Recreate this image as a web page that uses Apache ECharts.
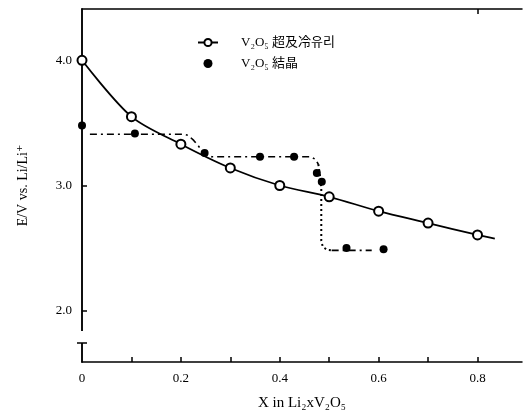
<!DOCTYPE html>
<html>
<head>
<meta charset="utf-8">
<script src="https://cdn.jsdelivr.net/npm/echarts@6/dist/echarts.min.js"></script>
<style>
html, body { margin: 0; padding: 0; background: #fff; }
#main { width: 525px; height: 419px; }
</style>
</head>
<body>
<div id="main"></div>
<script>
// 超急冷 glass: measured points (on the fitted curve)
var glassX = [0, 0.1, 0.2, 0.3, 0.4, 0.5, 0.6, 0.7, 0.8];
var glassY = [4.0, 3.55, 3.33, 3.14, 3.0, 2.91, 2.795, 2.70, 2.605];
// fitted curve continues past the last point
var curveEnd = [0.835, 2.575];

// crystal: measured points
var crystalX = [0, 0.107, 0.248, 0.36, 0.429, 0.475, 0.485, 0.535, 0.61];
var crystalY = [3.48, 3.415, 3.26, 3.23, 3.23, 3.10, 3.03, 2.50, 2.49];

// dash-dot guide for the crystal (upper plateaus)
var guideUpX = [0.016, 0.205, 0.215, 0.226, 0.245, 0.262, 0.462, 0.472, 0.478];
var guideUpY = [3.41, 3.41, 3.40, 3.36, 3.27, 3.23, 3.23, 3.21, 3.17];
// dotted drop
var guideDropX = [0.478, 0.482, 0.484, 0.484, 0.487, 0.496, 0.505];
var guideDropY = [3.17, 3.06, 2.98, 2.56, 2.51, 2.486, 2.482];
// lower plateau
var guideLowX = [0.505, 0.586];
var guideLowY = [2.482, 2.482];

var xTicks = [0.1, 0.2, 0.3, 0.4, 0.5, 0.6, 0.7, 0.8];
var xLabels = [0, 0.2, 0.4, 0.6, 0.8];
var yLabels = [2, 3, 4];

var serif = '"Liberation Serif", "DejaVu Serif", "Noto Sans CJK KR", serif';

function pairs(xs, ys) {
	return xs.map(function (x, i) { return [x, ys[i]]; });
}

var glassData = pairs(glassX, glassY);
glassData.push({ value: curveEnd, symbol: 'none' });

var chart = echarts.init(document.getElementById('main'));
var option = {
	backgroundColor: '#fff',
	animation: false,
	textStyle: { fontFamily: serif, color: '#000' },
	grid: { left: 82, right: 3, top: 9, bottom: 57 },
	legend: {
		orient: 'vertical',
		left: 192,
		top: 31,
		itemGap: 8,
		itemWidth: 20,
		itemHeight: 9,
		data: [
			{ name: 'glass' },
			{ name: 'crystal', icon: 'circle' }
		],
		formatter: function (name) {
			return name === 'glass' ? 'V₂O₅ 超及冷유리' : 'V₂O₅ 結晶';
		},
		textStyle: {
			fontFamily: serif,
			fontSize: 13,
			color: '#000',
			padding: [0, 0, 0, 18]
		}
	},
	xAxis: [{
		type: 'value',
		min: 0,
		max: 0.89,
		name: 'X in Li₂xV₂O₅',
		nameLocation: 'middle',
		nameGap: 34,
		nameTextStyle: { fontFamily: serif, fontSize: 15, color: '#000' },
		axisLine: { lineStyle: { color: '#000', width: 1.5 } },
		axisTick: { inside: true, length: 5, customValues: xTicks, lineStyle: { color: '#000', width: 1.5 } },
		axisLabel: {
			customValues: xLabels,
			margin: 10,
			fontSize: 13,
			color: '#000',
			formatter: function (v) { return v === 0 ? '0' : v.toFixed(1); }
		},
		splitLine: { show: false }
	}, {
		type: 'value',
		position: 'top',
		min: 0,
		max: 0.89,
		axisLine: { lineStyle: { color: '#000', width: 1.5 } },
		axisTick: { inside: true, length: 5, customValues: [0.8], lineStyle: { color: '#000', width: 1.5 } },
		axisLabel: { show: false },
		splitLine: { show: false }
	}],
	yAxis: [{
		type: 'value',
		min: 1.59,
		max: 4.41,
		name: 'E/V vs. Li/Li⁺',
		nameLocation: 'middle',
		nameGap: 52,
		nameTextStyle: { fontFamily: serif, fontSize: 14, color: '#000' },
		axisLine: { lineStyle: { color: '#000', width: 1.5 } },
		axisTick: { inside: true, length: 5, customValues: yLabels, lineStyle: { color: '#000', width: 1.5 } },
		axisLabel: {
			customValues: yLabels,
			margin: 10,
			fontSize: 13,
			color: '#000',
			formatter: function (v) { return v.toFixed(1); }
		},
		splitLine: { show: false }
	}, {
		type: 'value',
		position: 'right',
		min: 1.59,
		max: 4.41,
		axisLine: { lineStyle: { color: '#000', width: 1.5 } },
		axisTick: { inside: true, length: 5, customValues: [4], lineStyle: { color: '#000', width: 1.5 } },
		axisLabel: { show: false },
		splitLine: { show: false }
	}],
	// break mark on the y axis near the bottom
	graphic: [{
		type: 'rect',
		shape: { x: 79, y: 331, width: 6, height: 12 },
		style: { fill: '#fff' },
		z: 100
	}, {
		type: 'line',
		shape: { x1: 77, y1: 343, x2: 87, y2: 343 },
		style: { stroke: '#000', lineWidth: 1.5 },
		z: 101
	}],
	series: [{
		name: 'glass',
		type: 'line',
		data: glassData,
		smooth: 0.3,
		symbol: 'emptyCircle',
		symbolSize: 9,
		showAllSymbol: true,
		lineStyle: { color: '#000', width: 1.8 },
		itemStyle: { color: '#000', borderColor: '#000', borderWidth: 1.6 },
		z: 5
	}, {
		name: 'crystal',
		type: 'scatter',
		data: pairs(crystalX, crystalY),
		symbol: 'circle',
		symbolSize: 8,
		itemStyle: { color: '#000', opacity: 1 },
		z: 6
	}, {
		name: 'guideUp',
		type: 'line',
		data: pairs(guideUpX, guideUpY),
		symbol: 'none',
		lineStyle: { color: '#000', width: 1.6, type: [7, 4, 2, 4] },
		z: 3
	}, {
		name: 'guideDrop',
		type: 'line',
		data: pairs(guideDropX, guideDropY),
		symbol: 'none',
		lineStyle: { color: '#000', width: 2, type: [2, 3] },
		z: 3
	}, {
		name: 'guideLow',
		type: 'line',
		data: pairs(guideLowX, guideLowY),
		symbol: 'none',
		lineStyle: { color: '#000', width: 1.6, type: [7, 4, 2, 4] },
		z: 3
	}]
};
chart.setOption(option);
</script>
</body>
</html>
